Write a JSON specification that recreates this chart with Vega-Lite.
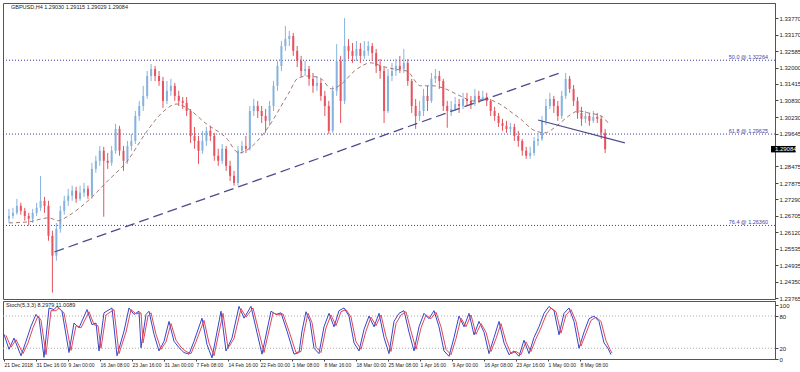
{
"$schema":"https://vega.github.io/schema/vega-lite/v6.json",
"padding":{"left":1,"top":2,"right":0,"bottom":0},
"spacing":2,
"bounds":"flush",
"background":"white",
"config":{"view":{"stroke":"#555","strokeWidth":1},"font":"Liberation Sans","axis":{"labelFont":"Liberation Sans","labelFontSize":6,"labelColor":"#222","tickColor":"#444","domainColor":"#555","tickSize":3,"labelPadding":1,"grid":false,"title":null}},
"datasets":{
"candles":[
{"i":0,"o":1.2660,"c":1.2670,"h":1.2695,"l":1.2645},
{"i":4,"o":1.2670,"c":1.2681,"h":1.2699,"l":1.2660},
{"i":8,"o":1.2681,"c":1.2706,"h":1.2731,"l":1.2674},
{"i":12,"o":1.2706,"c":1.2688,"h":1.2717,"l":1.2674},
{"i":16,"o":1.2688,"c":1.2670,"h":1.2699,"l":1.2653},
{"i":20,"o":1.2670,"c":1.2660,"h":1.2681,"l":1.2635},
{"i":24,"o":1.2660,"c":1.2681,"h":1.2695,"l":1.2645},
{"i":28,"o":1.2681,"c":1.2699,"h":1.2717,"l":1.2670},
{"i":32,"o":1.2699,"c":1.2724,"h":1.2813,"l":1.2688},
{"i":36,"o":1.2724,"c":1.2706,"h":1.2738,"l":1.2681},
{"i":40,"o":1.2706,"c":1.2599,"h":1.2724,"l":1.2581},
{"i":44,"o":1.2599,"c":1.2528,"h":1.2617,"l":1.2396},
{"i":48,"o":1.2528,"c":1.2624,"h":1.2645,"l":1.2510},
{"i":52,"o":1.2624,"c":1.2688,"h":1.2706,"l":1.2610},
{"i":56,"o":1.2688,"c":1.2724,"h":1.2742,"l":1.2674},
{"i":60,"o":1.2724,"c":1.2742,"h":1.2767,"l":1.2706},
{"i":64,"o":1.2742,"c":1.2760,"h":1.2778,"l":1.2724},
{"i":68,"o":1.2760,"c":1.2731,"h":1.2774,"l":1.2717},
{"i":72,"o":1.2731,"c":1.2753,"h":1.2778,"l":1.2724},
{"i":76,"o":1.2753,"c":1.2767,"h":1.2788,"l":1.2738},
{"i":80,"o":1.2767,"c":1.2742,"h":1.2778,"l":1.2731},
{"i":84,"o":1.2742,"c":1.2838,"h":1.2860,"l":1.2731},
{"i":88,"o":1.2838,"c":1.2867,"h":1.2885,"l":1.2824},
{"i":92,"o":1.2867,"c":1.2903,"h":1.2920,"l":1.2849},
{"i":96,"o":1.2903,"c":1.2867,"h":1.2917,"l":1.2667},
{"i":100,"o":1.2867,"c":1.2860,"h":1.2895,"l":1.2838},
{"i":104,"o":1.2860,"c":1.2903,"h":1.2920,"l":1.2849},
{"i":108,"o":1.2903,"c":1.2981,"h":1.2999,"l":1.2892},
{"i":112,"o":1.2981,"c":1.2903,"h":1.2992,"l":1.2885},
{"i":116,"o":1.2903,"c":1.2867,"h":1.2920,"l":1.2831},
{"i":120,"o":1.2867,"c":1.2920,"h":1.2938,"l":1.2856},
{"i":124,"o":1.2920,"c":1.2938,"h":1.2963,"l":1.2903},
{"i":128,"o":1.2938,"c":1.3027,"h":1.3045,"l":1.2927},
{"i":132,"o":1.3027,"c":1.3063,"h":1.3081,"l":1.3010},
{"i":136,"o":1.3063,"c":1.3099,"h":1.3135,"l":1.3045},
{"i":140,"o":1.3099,"c":1.3170,"h":1.3188,"l":1.3088},
{"i":144,"o":1.3170,"c":1.3195,"h":1.3213,"l":1.3152},
{"i":148,"o":1.3195,"c":1.3170,"h":1.3206,"l":1.3152},
{"i":152,"o":1.3170,"c":1.3152,"h":1.3188,"l":1.3135},
{"i":156,"o":1.3152,"c":1.3081,"h":1.3167,"l":1.3056},
{"i":160,"o":1.3081,"c":1.3117,"h":1.3152,"l":1.3070},
{"i":164,"o":1.3117,"c":1.3135,"h":1.3160,"l":1.3099},
{"i":168,"o":1.3135,"c":1.3099,"h":1.3145,"l":1.3081},
{"i":172,"o":1.3099,"c":1.3081,"h":1.3117,"l":1.3063},
{"i":176,"o":1.3081,"c":1.3074,"h":1.3095,"l":1.3052},
{"i":180,"o":1.3074,"c":1.3045,"h":1.3095,"l":1.3027},
{"i":184,"o":1.3045,"c":1.2956,"h":1.3052,"l":1.2931},
{"i":188,"o":1.2956,"c":1.2938,"h":1.2988,"l":1.2910},
{"i":192,"o":1.2938,"c":1.2903,"h":1.2956,"l":1.2856},
{"i":196,"o":1.2903,"c":1.2938,"h":1.2974,"l":1.2892},
{"i":200,"o":1.2938,"c":1.2974,"h":1.2988,"l":1.2920},
{"i":204,"o":1.2974,"c":1.2956,"h":1.2992,"l":1.2938},
{"i":208,"o":1.2956,"c":1.2885,"h":1.2967,"l":1.2867},
{"i":212,"o":1.2885,"c":1.2867,"h":1.2910,"l":1.2849},
{"i":216,"o":1.2867,"c":1.2910,"h":1.2927,"l":1.2856},
{"i":220,"o":1.2910,"c":1.2849,"h":1.2920,"l":1.2831},
{"i":224,"o":1.2849,"c":1.2813,"h":1.2867,"l":1.2795},
{"i":228,"o":1.2813,"c":1.2788,"h":1.2831,"l":1.2778},
{"i":232,"o":1.2788,"c":1.2903,"h":1.2920,"l":1.2778},
{"i":236,"o":1.2903,"c":1.2920,"h":1.2938,"l":1.2892},
{"i":240,"o":1.2920,"c":1.2910,"h":1.2956,"l":1.2895},
{"i":244,"o":1.2910,"c":1.3045,"h":1.3063,"l":1.2903},
{"i":248,"o":1.3045,"c":1.3063,"h":1.3088,"l":1.3027},
{"i":252,"o":1.3063,"c":1.3045,"h":1.3081,"l":1.3020},
{"i":256,"o":1.3045,"c":1.3027,"h":1.3063,"l":1.3002},
{"i":260,"o":1.3027,"c":1.3010,"h":1.3052,"l":1.2967},
{"i":264,"o":1.3010,"c":1.3063,"h":1.3081,"l":1.2992},
{"i":268,"o":1.3063,"c":1.3135,"h":1.3152,"l":1.3045},
{"i":272,"o":1.3135,"c":1.3206,"h":1.3224,"l":1.3117},
{"i":276,"o":1.3206,"c":1.3277,"h":1.3295,"l":1.3188},
{"i":280,"o":1.3277,"c":1.3302,"h":1.3349,"l":1.3260},
{"i":284,"o":1.3302,"c":1.3313,"h":1.3331,"l":1.3277},
{"i":288,"o":1.3313,"c":1.3260,"h":1.3324,"l":1.3242},
{"i":292,"o":1.3260,"c":1.3224,"h":1.3277,"l":1.3202},
{"i":296,"o":1.3224,"c":1.3188,"h":1.3242,"l":1.3167},
{"i":300,"o":1.3188,"c":1.3195,"h":1.3224,"l":1.3170},
{"i":304,"o":1.3195,"c":1.3160,"h":1.3206,"l":1.3135},
{"i":308,"o":1.3160,"c":1.3135,"h":1.3181,"l":1.3110},
{"i":312,"o":1.3135,"c":1.3145,"h":1.3170,"l":1.3117},
{"i":316,"o":1.3145,"c":1.3099,"h":1.3160,"l":1.3081},
{"i":320,"o":1.3099,"c":1.3063,"h":1.3117,"l":1.3027},
{"i":324,"o":1.3063,"c":1.2974,"h":1.3081,"l":1.2963},
{"i":328,"o":1.2974,"c":1.3117,"h":1.3135,"l":1.2967},
{"i":332,"o":1.3117,"c":1.3224,"h":1.3284,"l":1.3099},
{"i":336,"o":1.3224,"c":1.3081,"h":1.3242,"l":1.3002},
{"i":340,"o":1.3081,"c":1.3277,"h":1.3377,"l":1.3070},
{"i":344,"o":1.3277,"c":1.3260,"h":1.3302,"l":1.3231},
{"i":348,"o":1.3260,"c":1.3242,"h":1.3288,"l":1.3217},
{"i":352,"o":1.3242,"c":1.3267,"h":1.3295,"l":1.3224},
{"i":356,"o":1.3267,"c":1.3242,"h":1.3288,"l":1.3217},
{"i":360,"o":1.3242,"c":1.3260,"h":1.3295,"l":1.3231},
{"i":364,"o":1.3260,"c":1.3277,"h":1.3295,"l":1.3242},
{"i":368,"o":1.3277,"c":1.3252,"h":1.3288,"l":1.3224},
{"i":372,"o":1.3252,"c":1.3206,"h":1.3267,"l":1.3181},
{"i":376,"o":1.3206,"c":1.3188,"h":1.3231,"l":1.3160},
{"i":380,"o":1.3188,"c":1.3045,"h":1.3202,"l":1.3002},
{"i":384,"o":1.3045,"c":1.3170,"h":1.3195,"l":1.3038},
{"i":388,"o":1.3170,"c":1.3188,"h":1.3217,"l":1.3152},
{"i":392,"o":1.3188,"c":1.3206,"h":1.3231,"l":1.3170},
{"i":396,"o":1.3206,"c":1.3195,"h":1.3242,"l":1.3181},
{"i":400,"o":1.3195,"c":1.3217,"h":1.3267,"l":1.3181},
{"i":404,"o":1.3217,"c":1.3152,"h":1.3231,"l":1.3135},
{"i":408,"o":1.3152,"c":1.3063,"h":1.3160,"l":1.3038},
{"i":412,"o":1.3063,"c":1.3027,"h":1.3088,"l":1.2981},
{"i":416,"o":1.3027,"c":1.3045,"h":1.3081,"l":1.3010},
{"i":420,"o":1.3045,"c":1.3099,"h":1.3124,"l":1.3027},
{"i":424,"o":1.3099,"c":1.3081,"h":1.3135,"l":1.3045},
{"i":428,"o":1.3081,"c":1.3160,"h":1.3181,"l":1.3074},
{"i":432,"o":1.3160,"c":1.3170,"h":1.3195,"l":1.3145},
{"i":436,"o":1.3170,"c":1.3152,"h":1.3188,"l":1.3124},
{"i":440,"o":1.3152,"c":1.3063,"h":1.3160,"l":1.3045},
{"i":444,"o":1.3063,"c":1.3045,"h":1.3081,"l":1.2985},
{"i":448,"o":1.3045,"c":1.3052,"h":1.3081,"l":1.3027},
{"i":452,"o":1.3052,"c":1.3070,"h":1.3095,"l":1.3045},
{"i":456,"o":1.3070,"c":1.3063,"h":1.3088,"l":1.3038},
{"i":460,"o":1.3063,"c":1.3088,"h":1.3110,"l":1.3052},
{"i":464,"o":1.3088,"c":1.3081,"h":1.3110,"l":1.3063},
{"i":468,"o":1.3081,"c":1.3070,"h":1.3099,"l":1.3052},
{"i":472,"o":1.3070,"c":1.3099,"h":1.3124,"l":1.3063},
{"i":476,"o":1.3099,"c":1.3088,"h":1.3117,"l":1.3074},
{"i":480,"o":1.3088,"c":1.3095,"h":1.3117,"l":1.3081},
{"i":484,"o":1.3095,"c":1.3081,"h":1.3110,"l":1.3063},
{"i":488,"o":1.3081,"c":1.3045,"h":1.3088,"l":1.3027},
{"i":492,"o":1.3045,"c":1.3027,"h":1.3060,"l":1.3010},
{"i":496,"o":1.3027,"c":1.3002,"h":1.3038,"l":1.2988},
{"i":500,"o":1.3002,"c":1.2992,"h":1.3017,"l":1.2974},
{"i":504,"o":1.2992,"c":1.2981,"h":1.3010,"l":1.2967},
{"i":508,"o":1.2981,"c":1.2988,"h":1.3002,"l":1.2967},
{"i":512,"o":1.2988,"c":1.2956,"h":1.2999,"l":1.2938},
{"i":516,"o":1.2956,"c":1.2938,"h":1.2974,"l":1.2917},
{"i":520,"o":1.2938,"c":1.2903,"h":1.2945,"l":1.2885},
{"i":524,"o":1.2903,"c":1.2885,"h":1.2917,"l":1.2874},
{"i":528,"o":1.2885,"c":1.2895,"h":1.2917,"l":1.2874},
{"i":532,"o":1.2895,"c":1.2938,"h":1.2952,"l":1.2885},
{"i":536,"o":1.2938,"c":1.2945,"h":1.2967,"l":1.2920},
{"i":540,"o":1.2945,"c":1.3010,"h":1.3027,"l":1.2938},
{"i":544,"o":1.3010,"c":1.3063,"h":1.3088,"l":1.2995},
{"i":548,"o":1.3063,"c":1.3088,"h":1.3110,"l":1.3052},
{"i":552,"o":1.3088,"c":1.3063,"h":1.3099,"l":1.3038},
{"i":556,"o":1.3063,"c":1.3027,"h":1.3081,"l":1.3010},
{"i":560,"o":1.3027,"c":1.3099,"h":1.3117,"l":1.3017},
{"i":564,"o":1.3099,"c":1.3160,"h":1.3181,"l":1.3088},
{"i":568,"o":1.3160,"c":1.3124,"h":1.3170,"l":1.3110},
{"i":572,"o":1.3124,"c":1.3081,"h":1.3138,"l":1.3063},
{"i":576,"o":1.3081,"c":1.3038,"h":1.3095,"l":1.3017},
{"i":580,"o":1.3038,"c":1.3017,"h":1.3060,"l":1.2992},
{"i":584,"o":1.3017,"c":1.3027,"h":1.3045,"l":1.3002},
{"i":588,"o":1.3027,"c":1.3010,"h":1.3038,"l":1.2992},
{"i":592,"o":1.3010,"c":1.3024,"h":1.3045,"l":1.3002},
{"i":596,"o":1.3024,"c":1.3017,"h":1.3038,"l":1.3002},
{"i":600,"o":1.3017,"c":1.2967,"h":1.3027,"l":1.2945},
{"i":604,"o":1.2967,"c":1.29084,"h":1.2981,"l":1.2895}
],
"ma":[
{"x":0,"p":1.2645},{"x":20,"p":1.2649},{"x":40,"p":1.2663},{"x":50,"p":1.2653},{"x":60,"p":1.2670},{"x":80,"p":1.2724},{"x":100,"p":1.2795},{"x":120,"p":1.2867},{"x":140,"p":1.2974},{"x":157,"p":1.3045},{"x":170,"p":1.3070},{"x":180,"p":1.3056},{"x":200,"p":1.2999},{"x":220,"p":1.2949},{"x":233,"p":1.2895},{"x":240,"p":1.2903},{"x":260,"p":1.2974},{"x":283,"p":1.3106},{"x":293,"p":1.3163},{"x":303,"p":1.3170},{"x":315,"p":1.3163},{"x":327,"p":1.3124},{"x":337,"p":1.3142},{"x":350,"p":1.3188},{"x":367,"p":1.3217},{"x":377,"p":1.3206},{"x":390,"p":1.3195},{"x":403,"p":1.3188},{"x":417,"p":1.3135},{"x":430,"p":1.3135},{"x":440,"p":1.3127},{"x":457,"p":1.3099},{"x":470,"p":1.3081},{"x":483,"p":1.3088},{"x":497,"p":1.3070},{"x":510,"p":1.3038},{"x":517,"p":1.3020},{"x":533,"p":1.2974},{"x":543,"p":1.2967},{"x":555,"p":1.2992},{"x":567,"p":1.3027},{"x":577,"p":1.3045},{"x":587,"p":1.3038},{"x":600,"p":1.3027},{"x":607,"p":1.3002}
],
"stochk":[
{"x":0,"v":46},{"x":5,"v":18},{"x":10,"v":39},{"x":17,"v":6},{"x":22,"v":33},{"x":27,"v":61},{"x":32,"v":83},{"x":35,"v":76},{"x":40,"v":3},{"x":45,"v":95},{"x":50,"v":92},{"x":53,"v":98},{"x":58,"v":89},{"x":65,"v":12},{"x":70,"v":67},{"x":75,"v":58},{"x":83,"v":92},{"x":88,"v":64},{"x":92,"v":67},{"x":95,"v":15},{"x":100,"v":86},{"x":108,"v":95},{"x":113,"v":6},{"x":120,"v":52},{"x":125,"v":95},{"x":130,"v":83},{"x":135,"v":89},{"x":137,"v":21},{"x":142,"v":83},{"x":145,"v":89},{"x":150,"v":46},{"x":155,"v":15},{"x":160,"v":33},{"x":165,"v":70},{"x":170,"v":33},{"x":175,"v":21},{"x":180,"v":12},{"x":185,"v":9},{"x":190,"v":33},{"x":198,"v":76},{"x":203,"v":27},{"x":208,"v":2},{"x":217,"v":89},{"x":222,"v":15},{"x":228,"v":39},{"x":235,"v":98},{"x":240,"v":76},{"x":247,"v":98},{"x":253,"v":49},{"x":258,"v":9},{"x":267,"v":89},{"x":272,"v":83},{"x":277,"v":86},{"x":283,"v":52},{"x":290,"v":9},{"x":295,"v":12},{"x":298,"v":52},{"x":302,"v":88},{"x":306,"v":70},{"x":310,"v":20},{"x":315,"v":10},{"x":320,"v":60},{"x":325,"v":85},{"x":330,"v":60},{"x":335,"v":90},{"x":340,"v":95},{"x":345,"v":80},{"x":350,"v":30},{"x":355,"v":15},{"x":360,"v":55},{"x":365,"v":80},{"x":370,"v":60},{"x":375,"v":85},{"x":380,"v":40},{"x":385,"v":10},{"x":390,"v":70},{"x":395,"v":85},{"x":400,"v":90},{"x":405,"v":50},{"x":410,"v":15},{"x":415,"v":60},{"x":420,"v":85},{"x":425,"v":75},{"x":430,"v":90},{"x":435,"v":60},{"x":440,"v":15},{"x":445,"v":5},{"x":450,"v":40},{"x":455,"v":80},{"x":460,"v":60},{"x":465,"v":85},{"x":470,"v":45},{"x":475,"v":70},{"x":480,"v":50},{"x":485,"v":10},{"x":490,"v":40},{"x":495,"v":70},{"x":500,"v":30},{"x":505,"v":8},{"x":510,"v":15},{"x":515,"v":5},{"x":520,"v":35},{"x":525,"v":10},{"x":530,"v":40},{"x":535,"v":60},{"x":540,"v":85},{"x":545,"v":98},{"x":550,"v":90},{"x":555,"v":45},{"x":560,"v":85},{"x":565,"v":95},{"x":570,"v":70},{"x":575,"v":20},{"x":580,"v":50},{"x":585,"v":75},{"x":590,"v":80},{"x":595,"v":70},{"x":600,"v":30},{"x":604,"v":20},{"x":607,"v":8}
],
"stochd":[
{"x":2,"v":44},{"x":7,"v":22},{"x":12,"v":36},{"x":19,"v":10},{"x":24,"v":30},{"x":29,"v":58},{"x":34,"v":80},{"x":37,"v":72},{"x":42,"v":8},{"x":47,"v":90},{"x":52,"v":90},{"x":55,"v":95},{"x":60,"v":86},{"x":67,"v":16},{"x":72,"v":62},{"x":77,"v":58},{"x":85,"v":88},{"x":90,"v":64},{"x":94,"v":62},{"x":97,"v":20},{"x":102,"v":82},{"x":110,"v":92},{"x":115,"v":10},{"x":122,"v":50},{"x":127,"v":92},{"x":132,"v":84},{"x":137,"v":86},{"x":139,"v":30},{"x":144,"v":80},{"x":147,"v":86},{"x":152,"v":46},{"x":157,"v":18},{"x":162,"v":32},{"x":167,"v":66},{"x":172,"v":35},{"x":177,"v":22},{"x":182,"v":14},{"x":187,"v":10},{"x":192,"v":32},{"x":200,"v":72},{"x":205,"v":30},{"x":210,"v":6},{"x":219,"v":85},{"x":224,"v":20},{"x":230,"v":38},{"x":237,"v":94},{"x":242,"v":78},{"x":249,"v":95},{"x":255,"v":50},{"x":260,"v":12},{"x":269,"v":86},{"x":274,"v":82},{"x":279,"v":84},{"x":285,"v":52},{"x":292,"v":12},{"x":297,"v":14},{"x":300,"v":50},{"x":304,"v":85},{"x":308,"v":68},{"x":312,"v":22},{"x":317,"v":12},{"x":322,"v":58},{"x":327,"v":82},{"x":332,"v":62},{"x":337,"v":88},{"x":342,"v":92},{"x":347,"v":78},{"x":352,"v":32},{"x":357,"v":18},{"x":362,"v":52},{"x":367,"v":78},{"x":372,"v":62},{"x":377,"v":82},{"x":382,"v":42},{"x":387,"v":14},{"x":392,"v":66},{"x":397,"v":82},{"x":402,"v":88},{"x":407,"v":52},{"x":412,"v":18},{"x":417,"v":58},{"x":422,"v":82},{"x":427,"v":75},{"x":432,"v":87},{"x":437,"v":60},{"x":442,"v":18},{"x":447,"v":8},{"x":452,"v":38},{"x":457,"v":76},{"x":462,"v":60},{"x":467,"v":82},{"x":472,"v":46},{"x":477,"v":66},{"x":482,"v":50},{"x":487,"v":14},{"x":492,"v":38},{"x":497,"v":66},{"x":502,"v":32},{"x":507,"v":10},{"x":512,"v":14},{"x":517,"v":8},{"x":522,"v":32},{"x":527,"v":14},{"x":532,"v":38},{"x":537,"v":58},{"x":542,"v":82},{"x":547,"v":95},{"x":552,"v":88},{"x":557,"v":48},{"x":562,"v":82},{"x":567,"v":92},{"x":572,"v":70},{"x":577,"v":24},{"x":582,"v":48},{"x":587,"v":72},{"x":592,"v":78},{"x":597,"v":70},{"x":602,"v":34},{"x":606,"v":18},{"x":608,"v":11}
]
},
"vconcat":[
{
"width":772,"height":296,
"resolve":{"axis":{"x":"independent","y":"independent"}},
"layer":[
{"data":{"values":[{"p":1.32264},{"p":1.29625},{"p":1.26360}]},
 "mark":{"type":"rule","color":"#3f3fa8","strokeDash":[1,2],"strokeWidth":1},
 "encoding":{"y":{"field":"p","type":"quantitative","scale":{"domain":[1.2373,1.3431],"nice":false,"zero":false},
   "axis":{"orient":"right","title":null,"values":[1.23765,1.24350,1.24935,1.25535,1.26120,1.26705,1.27290,1.27875,1.28475,1.29645,1.30230,1.30830,1.31415,1.32000,1.32585,1.33170,1.33770],"format":".5f","labelOverlap":false}}}},
{"mark":{"type":"rule","color":"#cfcfcf","strokeWidth":1.5},
 "encoding":{"y":{"datum":1.29084,"type":"quantitative","scale":{"domain":[1.2373,1.3431],"nice":false,"zero":false},"axis":null}}},
{"data":{"name":"candles"},
 "mark":{"type":"rule","strokeWidth":1},
 "encoding":{"x":{"field":"i","type":"quantitative","scale":{"domain":[-1,771],"nice":false,"zero":false},"axis":null},
  "y":{"field":"l","type":"quantitative","scale":{"domain":[1.2373,1.3431],"nice":false,"zero":false},"axis":null},
  "y2":{"field":"h"},
  "color":{"condition":{"test":"datum.c >= datum.o","value":"#86b3de"},"value":"#e5535f"}}},
{"data":{"name":"candles"},
 "mark":{"type":"bar","size":2},
 "encoding":{"x":{"field":"i","type":"quantitative","scale":{"domain":[-1,771],"nice":false,"zero":false},"axis":null},
  "y":{"field":"o","type":"quantitative","scale":{"domain":[1.2373,1.3431],"nice":false,"zero":false},"axis":null},
  "y2":{"field":"c"},
  "color":{"condition":{"test":"datum.c >= datum.o","value":"#86b3de"},"value":"#e5535f"}}},
{"data":{"name":"ma"},
 "mark":{"type":"line","color":"#9a6a62","strokeDash":[4,3],"strokeWidth":0.9,"interpolate":"monotone"},
 "encoding":{"x":{"field":"x","type":"quantitative","scale":{"domain":[-1,771],"nice":false,"zero":false},"axis":null},
  "y":{"field":"p","type":"quantitative","scale":{"domain":[1.2373,1.3431],"nice":false,"zero":false},"axis":null}}},
{"data":{"values":[{"x":46,"p":1.2541},{"x":558,"p":1.3181}]},
 "mark":{"type":"line","color":"#4c4c8c","strokeDash":[10,5],"strokeWidth":1.3},
 "encoding":{"x":{"field":"x","type":"quantitative","scale":{"domain":[-1,771],"nice":false,"zero":false},"axis":null},
  "y":{"field":"p","type":"quantitative","scale":{"domain":[1.2373,1.3431],"nice":false,"zero":false},"axis":null}}},
{"data":{"values":[{"x":536,"p":1.3013},{"x":624,"p":1.2931}]},
 "mark":{"type":"line","color":"#4c4c8c","strokeWidth":1.1},
 "encoding":{"x":{"field":"x","type":"quantitative","scale":{"domain":[-1,771],"nice":false,"zero":false},"axis":null},
  "y":{"field":"p","type":"quantitative","scale":{"domain":[1.2373,1.3431],"nice":false,"zero":false},"axis":null}}},
{"data":{"values":[{"p":1.32264,"t":"50.0 @ 1.32264"},{"p":1.29625,"t":"61.8 @ 1.29625"},{"p":1.26360,"t":"76.4 @ 1.26360"}]},
 "mark":{"type":"text","align":"right","baseline":"bottom","fontSize":5.5,"color":"#3f3fa8","dy":-0.5},
 "encoding":{"x":{"datum":769,"type":"quantitative","scale":{"domain":[-1,771],"nice":false,"zero":false},"axis":null},
  "y":{"field":"p","type":"quantitative","scale":{"domain":[1.2373,1.3431],"nice":false,"zero":false},"axis":null},
  "text":{"field":"t"}}},
{"data":{"values":[{"t":"GBPUSD,H4  1.29030 1.29115 1.29029 1.29084"}]},
 "mark":{"type":"text","align":"left","baseline":"middle","fontSize":5.5,"color":"#222"},
 "encoding":{"x":{"datum":2,"type":"quantitative","scale":{"domain":[-1,771],"nice":false,"zero":false},"axis":null},
  "y":{"datum":1.3418,"type":"quantitative","scale":{"domain":[1.2373,1.3431],"nice":false,"zero":false},"axis":null},
  "text":{"field":"t"}}},
{"data":{"values":[{"a":772,"b":797,"p1":1.2920,"p2":1.2897}]},
 "mark":{"type":"rect","color":"#000","clip":false},
 "encoding":{"x":{"field":"a","type":"quantitative","scale":{"domain":[-1,771],"nice":false,"zero":false},"axis":null},"x2":{"field":"b"},
  "y":{"field":"p1","type":"quantitative","scale":{"domain":[1.2373,1.3431],"nice":false,"zero":false},"axis":null},"y2":{"field":"p2"}}},
{"data":{"values":[{"x":776,"p":1.29084,"t":"1.29084"}]},
 "mark":{"type":"text","align":"left","baseline":"middle","fontSize":6,"color":"#fff","clip":false},
 "encoding":{"x":{"field":"x","type":"quantitative","scale":{"domain":[-1,771],"nice":false,"zero":false},"axis":null},
  "y":{"field":"p","type":"quantitative","scale":{"domain":[1.2373,1.3431],"nice":false,"zero":false},"axis":null},
  "text":{"field":"t"}}}
]
},
{
"width":772,"height":58,
"resolve":{"axis":{"x":"independent","y":"independent"}},
"layer":[
{"data":{"values":[{"v":20},{"v":80}]},
 "mark":{"type":"rule","color":"#aaa","strokeDash":[1,2],"strokeWidth":1},
 "encoding":{"y":{"field":"v","type":"quantitative","scale":{"domain":[0,108],"nice":false},"axis":{"orient":"right","title":null,"values":[0,20,80,100],"format":"d","labelOverlap":false,"labelFlush":false,"labelBound":false}}}},
{"data":{"name":"stochk"},
 "mark":{"type":"line","color":"#3347cc","strokeWidth":1},
 "encoding":{"x":{"field":"x","type":"quantitative","scale":{"domain":[-1,771],"nice":false,"zero":false},
   "axis":{"orient":"bottom","title":null,"values":[0,32,64,96,128,160,192,224,256,288,320,352,384,416,448,480,512,544,576],"labelAlign":"left","labelBaseline":"top","labelPadding":1,"tickSize":2,"labelFontSize":5,"labelOverlap":false,"labelBound":false,"labelFlush":false,"labelExpr":"['21 Dec 2018','31 Dec 16:00','9 Jan 00:00','16 Jan 08:00','23 Jan 16:00','31 Jan 00:00','7 Feb 08:00','14 Feb 16:00','22 Feb 00:00','1 Mar 08:00','8 Mar 16:00','18 Mar 00:00','25 Mar 08:00','1 Apr 16:00','9 Apr 00:00','16 Apr 08:00','23 Apr 16:00','1 May 00:00','8 May 08:00'][round(datum.value/32)]"}},
  "y":{"field":"v","type":"quantitative","scale":{"domain":[0,108],"nice":false},"axis":null}}},
{"data":{"name":"stochd"},
 "mark":{"type":"line","color":"#e0455c","strokeWidth":1},
 "encoding":{"x":{"field":"x","type":"quantitative","scale":{"domain":[-1,771],"nice":false,"zero":false},"axis":null},
  "y":{"field":"v","type":"quantitative","scale":{"domain":[0,108],"nice":false},"axis":null}}},
{"data":{"values":[{"t":"Stoch(5,3,3) 8.2979 11.0089"}]},
 "mark":{"type":"text","align":"left","baseline":"middle","fontSize":5.5,"color":"#222"},
 "encoding":{"x":{"datum":2,"type":"quantitative","scale":{"domain":[-1,771],"nice":false,"zero":false},"axis":null},
  "y":{"datum":101,"type":"quantitative","scale":{"domain":[0,108],"nice":false},"axis":null},
  "text":{"field":"t"}}}
]
}
]
}
